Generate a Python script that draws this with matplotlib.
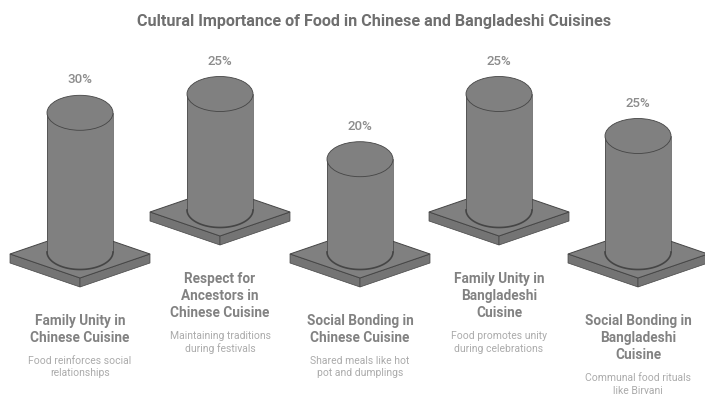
import numpy as np
import matplotlib
matplotlib.use("Agg")
import matplotlib.pyplot as plt
from matplotlib.patches import Ellipse, Polygon

plt.rcParams["font.family"] = ["Roboto", "DejaVu Sans"]

title = "Cultural Importance of Food in Chinese and Bangladeshi Cuisines"
values = [30, 25, 20, 25, 25]
names = [
    "Family Unity in\nChinese Cuisine",
    "Respect for\nAncestors in\nChinese Cuisine",
    "Social Bonding in\nChinese Cuisine",
    "Family Unity in\nBangladeshi\nCuisine",
    "Social Bonding in\nBangladeshi\nCuisine",
]
notes = [
    "Food reinforces social\nrelationships",
    "Maintaining traditions\nduring festivals",
    "Shared meals like hot\npot and dumplings",
    "Food promotes unity\nduring celebrations",
    "Communal food rituals\nlike Biryani",
]

BODY = "#808080"
FACE = "#808080"
SIDE = "#747474"
EDGE = "#454545"
PX_PER_PCT = 4.64
CENTERS = [80, 220, 360, 499, 638]
BASES = [252, 210, 252, 210, 252]
NAME_Y = [321, 279, 321, 279, 321]


def draw_plate(ax, cx, cy):
    hw, hh, t = 70, 24, 9
    left, right = (cx - hw, cy), (cx + hw, cy)
    top, front = (cx, cy - hh), (cx, cy + hh)
    ax.add_patch(Polygon([left, front, (cx, cy + hh + t), (cx - hw, cy + t)],
                         fc=SIDE, ec=EDGE, lw=0.5, zorder=2))
    ax.add_patch(Polygon([right, front, (cx, cy + hh + t), (cx + hw, cy + t)],
                         fc=SIDE, ec=EDGE, lw=0.5, zorder=2))
    ax.add_patch(Polygon([left, top, right, front], fc=FACE, ec=EDGE, lw=0.7, zorder=3))


def draw_cylinder(ax, cx, base_y, value):
    rx, ry = 33, 17.5
    top_y = base_y - value * PX_PER_PCT
    t = np.linspace(0, np.pi, 60)
    xs = cx + rx * np.cos(t)
    ys = base_y + ry * np.sin(t)
    body = np.column_stack([np.r_[cx - rx, cx + rx, xs], np.r_[top_y, top_y, ys]])
    ax.add_patch(Polygon(body, fc=BODY, ec="none", zorder=4))
    ax.plot([cx - rx, cx - rx], [top_y, base_y], color=EDGE, lw=0.5, zorder=5)
    ax.plot([cx + rx, cx + rx], [top_y, base_y], color=EDGE, lw=0.5, zorder=5)
    ax.plot(xs, ys, color=EDGE, lw=1.2, zorder=5)
    ax.add_patch(Ellipse((cx, top_y), 2 * rx, 2 * ry, fc=FACE, ec=EDGE, lw=0.6, zorder=6))
    return top_y


def main():
    fig = plt.figure(figsize=(7.05, 3.94), dpi=100)
    ax = fig.add_axes([0, 0, 1, 1])
    ax.set_xlim(0, 705)
    ax.set_ylim(394, 0)
    ax.axis("off")

    ax.text(374, 21, title, ha="center", va="center", fontsize=11.6,
            fontweight="bold", color="#6f6f6f")

    for i, value in enumerate(values):
        cx = CENTERS[i]
        draw_plate(ax, cx, BASES[i] + 2)
        top_y = draw_cylinder(ax, cx, BASES[i], value)
        ax.text(cx, top_y - 33, f"{value}%", ha="center", va="center",
                fontsize=9.5, fontweight="medium", color="#8c8c8c")

        # name block first, the note sits under however many lines it took
        y = NAME_Y[i]
        name_lines = names[i].split("\n")
        for line in name_lines:
            ax.text(cx, y, line, ha="center", va="center", fontsize=9.8,
                    fontweight="bold", color="#828282")
            y += 17
        y += 6
        for line in notes[i].split("\n"):
            ax.text(cx, y, line, ha="center", va="center", fontsize=7.5,
                    color="#ababab", clip_on=True)
            y += 12.5

    fig.savefig("out.png", dpi=100)


if __name__ == "__main__":
    main()
